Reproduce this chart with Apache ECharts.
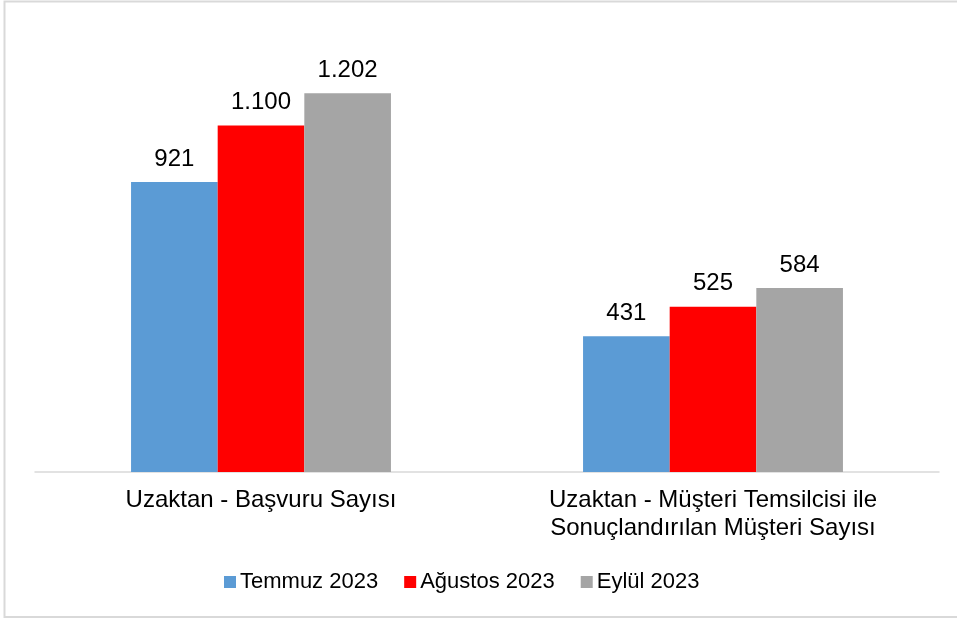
<!DOCTYPE html>
<html>
<head>
<meta charset="utf-8">
<script src="https://cdn.jsdelivr.net/npm/echarts@6/dist/echarts.min.js"></script>
<style>
  html, body { margin: 0; padding: 0; background: #fff; }
  #chart { width: 957px; height: 620px; }
</style>
</head>
<body>
<div id="chart"></div>
<script>
// kategoriler ve seriler
const categories = ['Uzaktan - Başvuru Sayısı', 'Uzaktan - Müşteri Temsilcisi ile\nSonuçlandırılan Müşteri Sayısı']
const seriesNames = ['Temmuz 2023', 'Ağustos 2023', 'Eylül 2023']
const temmuz = [921, 431]
const agustos = [1100, 525]
const eylul = [1202, 584]
const colors = ['#5B9BD5', '#FF0000', '#A5A5A5']

const font = 'Liberation Sans, Arial, sans-serif'

// binlik ayırıcı nokta
const fmt = (v) => String(v).replace(/\B(?=(\d{3})+(?!\d))/g, '.')

const chart = echarts.init(document.getElementById('chart'))

const makeSeries = (name, data, color) => ({
  name,
  type: 'bar',
  data,
  barGap: '0%',
  barCategoryGap: '42.5%',
  itemStyle: { color },
  label: {
    show: true,
    position: 'top',
    distance: 11,
    fontSize: 24,
    fontFamily: font,
    color: '#000',
    formatter: (p) => fmt(p.value)
  }
})

chart.setOption({
  animation: false,
  textStyle: { fontFamily: font },
  graphic: [{
    type: 'rect',
    shape: { x: 4.5, y: 1.5, width: 960, height: 615.5 },
    style: { fill: 'none', stroke: '#D9D9D9', lineWidth: 2 },
    silent: true
  }],
  grid: { left: 35, right: 18, top: 31, bottom: 148 },
  legend: {
    data: seriesNames,
    top: 566,
    left: 219,
    itemWidth: 12,
    itemHeight: 12,
    itemGap: 26,
    icon: 'rect',
    textStyle: { fontSize: 22, color: '#000', fontFamily: font, padding: [0, 0, 0, -1] }
  },
  xAxis: {
    type: 'category',
    data: categories,
    axisLine: { lineStyle: { color: '#D9D9D9', width: 1.5 } },
    axisTick: { show: false },
    axisLabel: {
      fontSize: 24,
      color: '#000',
      fontFamily: font,
      lineHeight: 28,
      margin: 14,
      interval: 0
    }
  },
  yAxis: {
    type: 'value',
    min: 0,
    max: 1400,
    show: false,
    splitLine: { show: false }
  },
  series: [
    makeSeries(seriesNames[0], temmuz, colors[0]),
    makeSeries(seriesNames[1], agustos, colors[1]),
    makeSeries(seriesNames[2], eylul, colors[2])
  ]
})
</script>
</body>
</html>
